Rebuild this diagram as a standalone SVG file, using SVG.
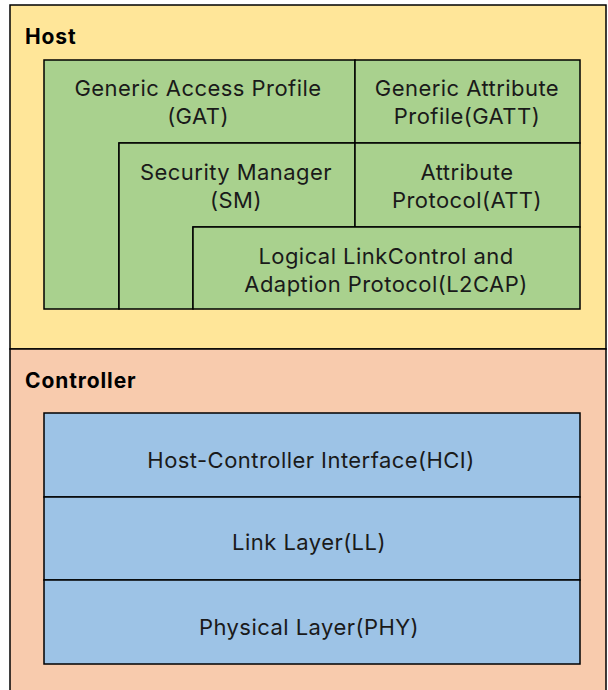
<svg xmlns="http://www.w3.org/2000/svg" width="608" height="690" viewBox="0 0 608 690">
<style>
  .frame { stroke: #000; stroke-width: 1.5; }
  .g { fill: #A9D18E; stroke: #000; stroke-width: 1.5; }
  .b { fill: #9DC3E6; stroke: #000; stroke-width: 1.5; }
  .t { font-family: Inter, "Noto Sans", sans-serif; font-size: 22px; letter-spacing: 0.45px; fill: #1a1a1a; text-anchor: middle; }
  .h { font-family: Inter, "Noto Sans", sans-serif; font-size: 21px; letter-spacing: 0.9px; font-weight: bold; fill: #000; }
</style>
<rect width="608" height="690" fill="#ffffff"/>
<g id="host">
  <rect x="10" y="5" width="596" height="344" fill="#FFE699" class="frame"/>
  <text class="h" x="25" y="44">Host</text>
</g>
<g id="controller">
  <rect x="10" y="349" width="596" height="350" fill="#F8CBAD" class="frame"/>
  <text class="h" x="25" y="388">Controller</text>
</g>
<g id="gap">
  <polygon class="g" points="44,60 355,60 355,143 119,143 119,309 44,309"/>
  <text class="t" x="198" y="96">Generic Access Profile</text>
  <text class="t" x="198" y="124">(GAT)</text>
</g>
<g id="gatt">
  <rect class="g" x="355" y="60" width="225" height="83"/>
  <text class="t" x="467" y="96">Generic Attribute</text>
  <text class="t" x="467" y="124">Profile(GATT)</text>
</g>
<g id="sm">
  <polygon class="g" points="119,143 355,143 355,227 193,227 193,309 119,309"/>
  <text class="t" x="236" y="180">Security Manager</text>
  <text class="t" x="236" y="208">(SM)</text>
</g>
<g id="att">
  <rect class="g" x="355" y="143" width="225" height="84"/>
  <text class="t" x="467" y="180">Attribute</text>
  <text class="t" x="467" y="208">Protocol(ATT)</text>
</g>
<g id="l2cap">
  <rect class="g" x="193" y="227" width="387" height="82"/>
  <text class="t" x="386" y="264">Logical LinkControl and</text>
  <text class="t" x="386" y="292">Adaption Protocol(L2CAP)</text>
</g>
<g id="hci">
  <rect class="b" x="44" y="413" width="536" height="84"/>
  <text class="t" x="311" y="468">Host-Controller Interface(HCI)</text>
</g>
<g id="ll">
  <rect class="b" x="44" y="497" width="536" height="83"/>
  <text class="t" x="309" y="550">Link Layer(LL)</text>
</g>
<g id="phy">
  <rect class="b" x="44" y="580" width="536" height="84"/>
  <text class="t" x="309" y="635">Physical Layer(PHY)</text>
</g>
<g id="connectors"></g>
</svg>
